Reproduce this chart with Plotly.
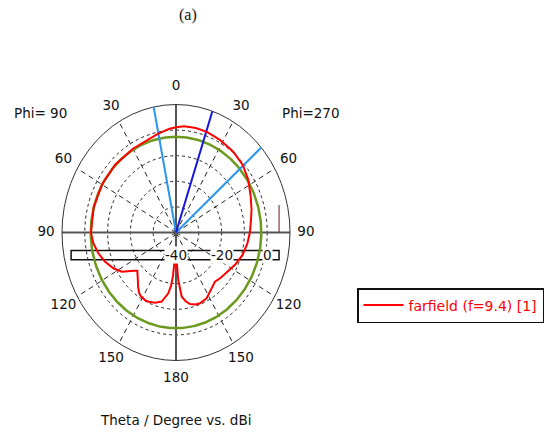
import numpy as np
import plotly.graph_objects as go

# ---------------- data ----------------
r_min, r_max = -40, 10                     # radial range (dBi)
grid_db = [-30, -20, -10, 0]                # dashed grid circles
radial_tick_db = [-40, -20, 0]
radial_tick_text = ["-40", "-20", "0"]
spoke_angles = [30, 60, 120, 150, 210, 240, 300, 330]
axis_angles = [0, 90, 180, 270]
angle_ticks = [0, 30, 60, 90, 120, 150, 180, -150, -120, -90, -60, -30]
angle_tick_text = ["0", "30", "60", "90", "120", "150", "180",
                   "150", "120", "90", "60", "30"]

# theta in degrees, clockwise from top (negative = Phi=90 half on the left)
theta_deg = [-180, -178, -176.5, -175.5, -174, -171.9, -169, -166.9, -161.4,
             -156, -152.7, -148, -145.9, -142, -138, -134, -131.3, -129,
             -126.7, -122.7, -117, -110, -103.4, -96.6, -90, -75, -60, -45,
             -30, -20, -12, -8, -4, 0, 5, 12, 19, 28, 38.5, 48, 57, 67, 75,
             82, 90, 97.7, 106.7, 116, 126.6, 132, 138.3, 144.3, 152.4,
             159.2, 163, 167.6, 171, 174.3, 175.5, 176.9, 178.2, 179.2, 180]
gain_db = [-32.5, -31, -28, -23, -19, -16, -13.8, -12.3, -11.1,
           -10.4, -10.3, -10.8, -11.3, -13, -15, -16.8, -17.4, -16.2,
           -14.8, -11.7, -9.2, -6.8, -5.0, -3.5, -2.7, -2.6, -2.5, -2.4,
           -2.2, -1.7, -0.7, -0.1, 0.6, 1.1, 1.7, 1.7, 1.6, 1.0, 0.35, -0.6,
           -2.2, -4.4, -5.7, -6.8, -7.6, -8.4, -9.5, -11.2, -13.2, -13.6,
           -14.3, -13.2, -11.0, -10.4, -10.6, -11.4, -12.8, -14.8, -18,
           -21.4, -28, -31, -32.5]
series_name = "farfield (f=9.4) [1]"

main_lobe_dir = 18.6          # degrees
beam_edges = [-11.3, 48.4]    # 3 dB angular width edges
side_lobe_db = -2.6           # green reference circle

# ---------------- geometry helpers ----------------
W, H = 545, 434
cx_px, cy_px = 176, 232.5     # pixel centre of the polar diagram
sx, sy = 2.28, 2.56           # pixels per dB (horizontal / vertical)


def to_xy(theta, db):
    u = np.asarray(db, dtype=float) - r_min
    t = np.radians(np.asarray(theta, dtype=float))
    return u * np.sin(t), u * np.cos(t)


R = r_max - r_min
FONT = "DejaVu Sans"

fig = go.Figure()

# green reference circle
tt = np.linspace(0, 360, 361)
gx, gy = to_xy(tt, np.full_like(tt, side_lobe_db))
fig.add_trace(go.Scatter(x=gx, y=gy, mode="lines", showlegend=False,
                         line=dict(color="#6b9a1f", width=2.5), hoverinfo="skip"))

# angular width (light blue) and main lobe direction (dark blue)
for ang in beam_edges:
    lx, ly = to_xy([ang, ang], [r_min, r_max])
    fig.add_trace(go.Scatter(x=lx, y=ly, mode="lines", showlegend=False,
                             line=dict(color="#2b95f0", width=2), hoverinfo="skip"))
lx, ly = to_xy([main_lobe_dir, main_lobe_dir], [r_min, r_max])
fig.add_trace(go.Scatter(x=lx, y=ly, mode="lines", showlegend=False,
                         line=dict(color="#1515e0", width=2), hoverinfo="skip"))

# farfield curve
fx, fy = to_xy(theta_deg, gain_db)
fig.add_trace(go.Scatter(x=fx, y=fy, mode="lines", name=series_name,
                         line=dict(color="#ff0000", width=2)))

# angular tick labels
lab_u = 57
tx = lab_u * np.sin(np.radians(angle_ticks))
ty = lab_u * np.cos(np.radians(angle_ticks))
fig.add_trace(go.Scatter(x=tx, y=ty, mode="text", text=angle_tick_text,
                         showlegend=False, hoverinfo="skip",
                         textfont=dict(family=FONT, size=13.5, color="#111")))

shapes = []
# dashed grid circles
for g in grid_db:
    u = g - r_min
    shapes.append(dict(type="circle", xref="x", yref="y", x0=-u, y0=-u, x1=u, y1=u,
                       line=dict(color="#222", width=1, dash="3px,3px"), layer="below"))
# dashed spokes
for a in spoke_angles:
    ex, ey = to_xy(a, r_max)
    shapes.append(dict(type="line", xref="x", yref="y", x0=0, y0=0, x1=float(ex), y1=float(ey),
                       line=dict(color="#222", width=1, dash="5px,4px"), layer="below"))
# solid axes cross
for a in axis_angles:
    ex, ey = to_xy(a, r_max)
    shapes.append(dict(type="line", xref="x", yref="y", x0=0, y0=0, x1=float(ex), y1=float(ey),
                       line=dict(color="#555", width=2), layer="below"))
# outer circle
shapes.append(dict(type="circle", xref="x", yref="y", x0=-R, y0=-R, x1=R, y1=R,
                   line=dict(color="#333", width=1), layer="below"))
# radial scale bar below the horizontal axis
shapes.append(dict(type="rect", xref="x", yref="y", x0=-46, x1=45.2, y0=-10.6, y1=-7.0,
                   line=dict(color="#111", width=1.5), layer="below"))
shapes.append(dict(type="line", xref="x", yref="y", x0=45.2, x1=45.2, y0=0, y1=10.7,
                   line=dict(color="#6b1a1a", width=1), layer="below"))

annotations = []
for d, t in zip(radial_tick_db, radial_tick_text):
    annotations.append(dict(x=d - r_min, y=-8.6, xref="x", yref="y", text=t,
                            showarrow=False, bgcolor="white", borderpad=0,
                            font=dict(family=FONT, size=13.5, color="#111")))


def pa(text, xp, yp, size=13.5, family=FONT):
    annotations.append(dict(x=xp / W, y=1 - yp / H, xref="paper", yref="paper",
                            text=text, showarrow=False, xanchor="center",
                            yanchor="middle",
                            font=dict(family=family, size=size, color="#111")))


pa("(a)", 188, 15, size=16, family="Liberation Serif")
pa("Phi= 90", 40, 113)
pa("Phi=270", 311, 113)
pa("Theta / Degree vs. dBi", 175, 420)

fig.update_layout(
    width=W, height=H, autosize=False,
    margin=dict(l=0, r=0, t=0, b=0),
    paper_bgcolor="white", plot_bgcolor="white",
    xaxis=dict(range=[-cx_px / sx, (W - cx_px) / sx], visible=False, domain=[0, 1],
               fixedrange=True),
    yaxis=dict(range=[-(H - cy_px) / sy, cy_px / sy], visible=False, domain=[0, 1],
               fixedrange=True),
    shapes=shapes, annotations=annotations,
    showlegend=True,
    legend=dict(x=357 / W, y=1 - 288 / H, xanchor="left", yanchor="top",
                bgcolor="white", bordercolor="#111", borderwidth=1.5,
                font=dict(family=FONT, size=14, color="#ff0000"),
                itemwidth=40),
)

fig.write_html("out.html")
